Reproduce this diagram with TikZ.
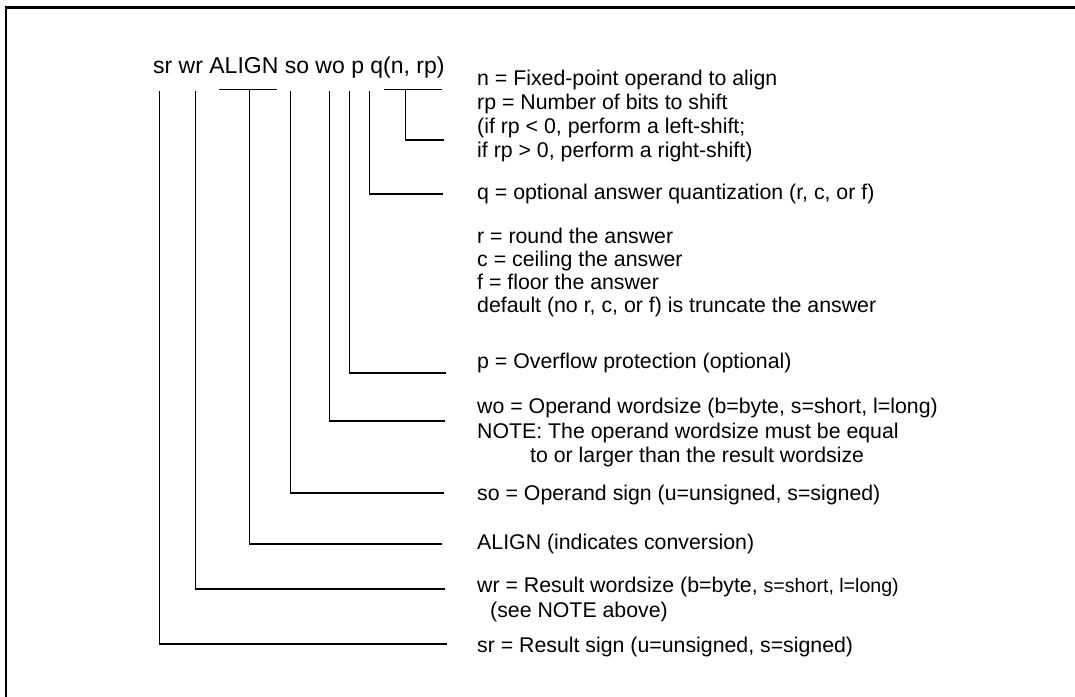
\documentclass[tikz,border=0pt]{standalone}
\usepackage{fontspec}
\setmainfont{Liberation Sans}
\newcommand{\smallpart}[1]{{\fontsize{19.6}{25}\selectfont #1}}
\begin{document}
\begin{tikzpicture}[x=1pt,y=-1pt,
  conn/.style={line width=1.3pt},
  frame/.style={line width=2.3pt},
  lab/.style={anchor=base west, inner sep=0pt, font=\fontsize{21.3}{25}\selectfont},
  ttl/.style={anchor=base west, inner sep=0pt, font=\fontsize{23}{27}\selectfont}]
\useasboundingbox (0,0) rectangle (1075,696);
\clip (0,0) rectangle (1075,696);
% frame (cropped at right and bottom)
\coordinate (fbl) at (6.2,720);
\coordinate (ftr) at (1100,7.5);
\draw[frame] (fbl) |- (ftr);
% title
\node[ttl] (title) at (153,73) {sr wr ALIGN so wo p q(n, rp)};
% tops of connectors
\coordinate (sr-t) at (159.3,90.7);
\coordinate (wr-t) at (195.3,90.7);
\coordinate (al-a) at (219,89.3);
\coordinate (al-b) at (277,89.3);
\coordinate (al-t) at (249.3,89.3);
\coordinate (so-t) at (290.7,90.7);
\coordinate (wo-t) at (329.3,90.7);
\coordinate (p-t) at (349.3,90.7);
\coordinate (q-t) at (369.3,90.7);
\coordinate (n-a) at (384,89.3);
\coordinate (rp-t) at (405.5,89.3);
% ends of connectors
\coordinate (n-e) at (442,89.3);
\coordinate (rp-e) at (444,140);
\coordinate (q-e) at (443,194);
\coordinate (p-e) at (446,373);
\coordinate (wo-e) at (445,421);
\coordinate (so-e) at (444,493);
\coordinate (al-e) at (442,544);
\coordinate (wr-e) at (445,589);
\coordinate (sr-e) at (447,644);
% labels
\node[lab] (n-l) at (477,85) {n = Fixed-point operand to align};
\node[lab] (rp-l) at (477,109) {rp = Number of bits to shift};
\node[lab] (rp-l2) at (477,133) {(if rp < 0, perform a left-shift;};
\node[lab] (rp-l3) at (477,157) {if rp > 0, perform a right-shift)};
\node[lab] (q-l) at (477,199) {q = optional answer quantization (r, c, or f)};
\node[lab] (r-l) at (477,243) {r = round the answer};
\node[lab] (c-l) at (477,266) {c = ceiling the answer};
\node[lab] (f-l) at (477,289) {f = floor the answer};
\node[lab] (d-l) at (477,312) {default (no r, c, or f) is truncate the answer};
\node[lab] (p-l) at (477,368) {p = Overflow protection (optional)};
\node[lab] (wo-l) at (477,413) {wo = Operand wordsize (b=byte, s=short, l=long)};
\node[lab] (note-l) at (477,438) {NOTE: The operand wordsize must be equal};
\node[lab] (note-l2) at (530,462) {to or larger than the result wordsize};
\node[lab] (so-l) at (477,500) {so = Operand sign (u=unsigned, s=signed)};
\node[lab] (al-l) at (477,549) {ALIGN (indicates conversion)};
\node[lab] (wr-l) at (477,592) {wr = Result wordsize (b=byte, \smallpart{s=short, l=long)}};
\node[lab] (wr-l2) at (490,617) {(see NOTE above)};
\node[lab] (sr-l) at (477,652) {sr = Result sign (u=unsigned, s=signed)};
% connectors
\draw[conn] (n-a) -- (n-e);
\draw[conn] (rp-t) |- (rp-e);
\draw[conn] (q-t) |- (q-e);
\draw[conn] (p-t) |- (p-e);
\draw[conn] (wo-t) |- (wo-e);
\draw[conn] (so-t) |- (so-e);
\draw[conn] (al-a) -- (al-b);
\draw[conn] (al-t) |- (al-e);
\draw[conn] (wr-t) |- (wr-e);
\draw[conn] (sr-t) |- (sr-e);
\end{tikzpicture}
\end{document}
